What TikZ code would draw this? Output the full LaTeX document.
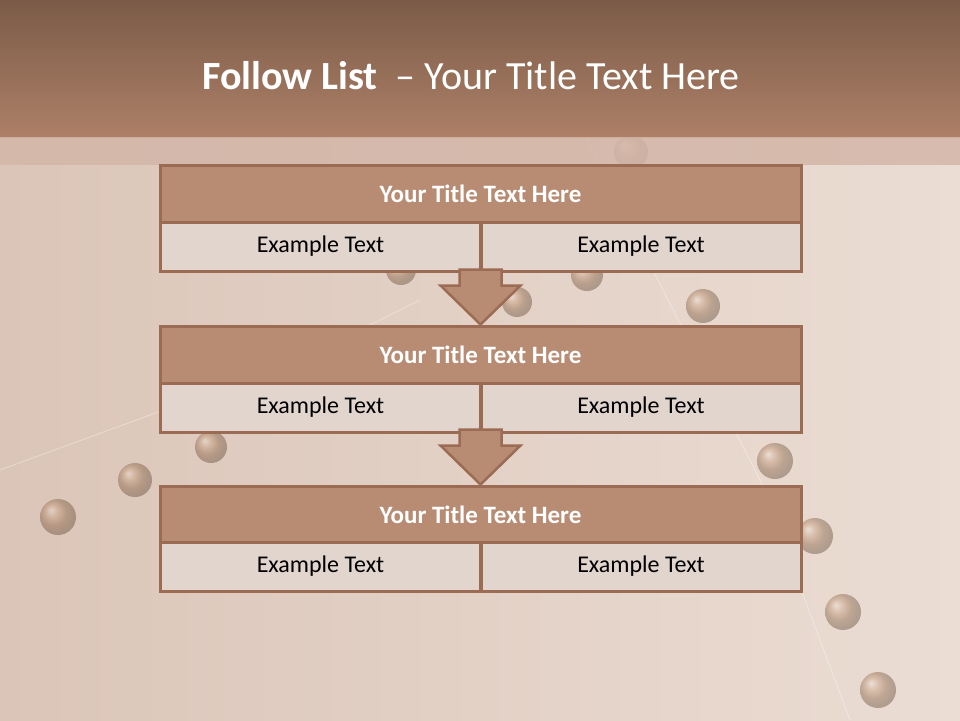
\documentclass[tikz,border=0pt]{standalone}
\usepackage{fontspec}
\setmainfont{Carlito}
\usetikzlibrary{shadings}
\definecolor{bgbase}{HTML}{EBDDD4}
\definecolor{bgdark}{HTML}{DBC5B8}
\definecolor{hdtop}{HTML}{7B5B48}
\definecolor{hdbot}{HTML}{AD8067}
\definecolor{strip}{HTML}{D3B6A8}
\definecolor{ttlfill}{HTML}{B88B73}
\definecolor{edge}{HTML}{9C6B53}
\definecolor{exfill}{HTML}{E2D5CE}
\definecolor{rivet}{HTML}{A0622E}
\tikzset{
  titlebox/.style={draw=edge, line width=3pt, fill=ttlfill, minimum width=641pt, minimum height=57pt, inner sep=0pt, text=white, font=\fontsize{25}{30}\selectfont\bfseries},
  exbox/.style={draw=edge, line width=3pt, fill=exfill, minimum width=320pt, minimum height=49pt, inner sep=0pt, text=black, font=\fontsize{24}{29}\selectfont},
  flowarrow/.style={draw=edge, line width=2.5pt, fill=ttlfill, line join=miter},
  rivetdot/.style={ball color=rivet, opacity=0.35},
  seam/.style={draw=white, line width=1pt, opacity=0.3}
}
\begin{document}
\begin{tikzpicture}[x=1pt,y=-1pt]
\useasboundingbox (0,0) rectangle (960,720);
% background
\shade[left color=bgdark, right color=bgbase] (0,0) rectangle (960,720);
% seams
\draw[seam] (585,137) -- (760,480) -- (850,720);
\draw[seam] (0,470) -- (300,360) -- (420,300);
% rivets
\foreach \px/\py/\r in {631/152/17, 703/306/17, 587/275/16, 401/270/15, 517/302/15, 211/447/16, 135/480/17, 58/517/18, 775/461/18, 815/536/18, 843/612/18, 878/690/18}
  \shade[rivetdot] (\px,\py) circle (\r);
% header
\shade[top color=hdtop, bottom color=hdbot] (0,0) rectangle (960,137);
\fill[strip, opacity=0.85] (0,137) rectangle (960,165);
\node[text=white, font=\fontsize{40}{48}\selectfont, anchor=center] (title) at (471,76) {\textbf{Follow List}\ \ – Your Title Text Here};
% row 1
\node[titlebox] (t1) at (480.5,193.5) {Your Title Text Here};
\node[exbox] (a1) at (320.5,246.5) {Example Text};
\node[exbox] (b1) at (641,246.5) {Example Text};
% row 2
\node[titlebox] (t2) at (480.5,354.5) {Your Title Text Here};
\node[exbox] (a2) at (320.5,407.5) {Example Text};
\node[exbox] (b2) at (641,407.5) {Example Text};
% row 3
\node[titlebox] (t3) at (480.5,514.5) {Your Title Text Here};
\node[exbox] (a3) at (320.5,566.5) {Example Text};
\node[exbox] (b3) at (641,566.5) {Example Text};
% arrows
\draw[flowarrow] (t2.north) -- ++(-40,-39) -- ++(19,0) -- ++(0,-16) -- ++(42,0) -- ++(0,16) -- ++(19,0) -- cycle;
\draw[flowarrow] (t3.north) -- ++(-40,-39) -- ++(19,0) -- ++(0,-16) -- ++(42,0) -- ++(0,16) -- ++(19,0) -- cycle;
\end{tikzpicture}
\end{document}
